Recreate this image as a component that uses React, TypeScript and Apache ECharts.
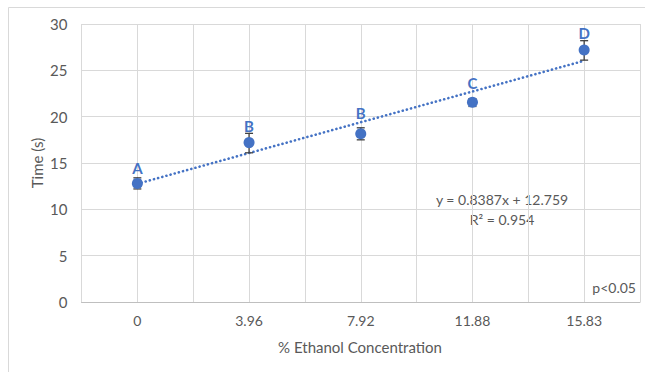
import React, { useEffect, useRef } from "react";
import * as echarts from "echarts";

const categories = ["0", "3.96", "7.92", "11.88", "15.83"];
const meanTime = [12.8, 17.2, 18.15, 21.55, 27.2];
const errLow = [12.2, 16.1, 17.5, 21.1, 26.1];
const errHigh = [13.4, 18.2, 18.8, 21.95, 28.2];
const letters = ["A", "B", "B", "C", "D"];
const letterY = [14.5, 19.0, 20.4, 23.6, 29.0];
const trendEnds = [12.759, 26.036];
const yTicks = [0, 5, 10, 15, 20, 25, 30];

const FONT = "Lato, 'Open Sans', sans-serif";
const BLUE = "#4472C4";
const TEXT = "#595959";

export default function App() {
  const ref = useRef<HTMLDivElement>(null);
  useEffect(() => {
    if (!ref.current) return;
    const chart = echarts.init(ref.current, null, { renderer: "svg" });
    const last = categories.length - 1;
    chart.setOption({
      animation: false,
      backgroundColor: "#ffffff",
      textStyle: { fontFamily: FONT },
      grid: { left: 81.5, right: 5, top: 24, bottom: 70 },
      xAxis: {
        type: "value",
        min: -0.5,
        max: categories.length - 0.5,
        interval: 0.5,
        axisLine: { show: true, lineStyle: { color: "#bfbfbf", width: 1 } },
        axisTick: { show: false },
        splitLine: { show: true, lineStyle: { color: "#d9d9d9", width: 1 } },
        axisLabel: {
          margin: 11,
          color: TEXT,
          fontSize: 14,
          fontFamily: FONT,
          showMinLabel: false,
          showMaxLabel: false,
          formatter: (v: number) => {
            const i = Math.round(v);
            return Math.abs(v - i) < 1e-6 && i >= 0 && i < categories.length ? categories[i] : "";
          },
        },
      },
      yAxis: {
        type: "value",
        min: yTicks[0],
        max: yTicks[yTicks.length - 1],
        interval: 5,
        axisLine: { show: false },
        axisTick: { show: false },
        splitLine: { show: true, lineStyle: { color: "#d9d9d9", width: 1 } },
        axisLabel: { margin: 14, color: TEXT, fontSize: 15, fontFamily: FONT },
      },
      graphic: [
        {
          type: "rect",
          silent: true,
          shape: { x: 8.5, y: 7.5, width: 700, height: 400 },
          style: { fill: "none", stroke: "#d9d9d9", lineWidth: 1 },
          z: -10,
        },
        {
          type: "text",
          x: 37,
          y: 163,
          rotation: Math.PI / 2,
          style: {
            text: "Time (s)",
            fill: TEXT,
            font: `15px ${FONT}`,
            textAlign: "center",
            textVerticalAlign: "middle",
          },
        },
        {
          type: "text",
          x: 360,
          y: 347,
          style: {
            text: "% Ethanol Concentration",
            fill: TEXT,
            font: `15px ${FONT}`,
            textAlign: "center",
            textVerticalAlign: "middle",
          },
        },
        {
          type: "text",
          x: 502,
          y: 199,
          style: {
            text: "y = 0.8387x + 12.759",
            fill: TEXT,
            font: `14px ${FONT}`,
            textAlign: "center",
            textVerticalAlign: "middle",
          },
        },
        {
          type: "text",
          x: 502,
          y: 219,
          style: {
            text: "R² = 0.954",
            fill: TEXT,
            font: `14px ${FONT}`,
            textAlign: "center",
            textVerticalAlign: "middle",
          },
        },
        {
          type: "text",
          x: 636,
          y: 287,
          style: {
            text: "p<0.05",
            fill: TEXT,
            font: `14px ${FONT}`,
            textAlign: "right",
            textVerticalAlign: "middle",
          },
        },
      ],
      series: [
        {
          type: "line",
          data: [
            [0, trendEnds[0]],
            [last, trendEnds[1]],
          ],
          symbol: "none",
          lineStyle: { color: BLUE, width: 2.6, type: [0.1, 4.2], cap: "round" },
          z: 2,
        },
        {
          type: "custom",
          data: categories.map((_, i) => [i, errLow[i], errHigh[i]]),
          renderItem: (params: any, api: any) => {
            const x = api.value(0);
            const lo = api.coord([x, api.value(1)]);
            const hi = api.coord([x, api.value(2)]);
            const hw = 4;
            const st = { stroke: "#404040", lineWidth: 1.3 };
            return {
              type: "group",
              children: [
                { type: "line", shape: { x1: lo[0], y1: lo[1], x2: hi[0], y2: hi[1] }, style: st },
                { type: "line", shape: { x1: lo[0] - hw, y1: lo[1], x2: lo[0] + hw, y2: lo[1] }, style: st },
                { type: "line", shape: { x1: hi[0] - hw, y1: hi[1], x2: hi[0] + hw, y2: hi[1] }, style: st },
              ],
            };
          },
          z: 3,
        },
        {
          type: "scatter",
          data: categories.map((_, i) => [i, meanTime[i]]),
          symbol: "circle",
          symbolSize: 11,
          itemStyle: { color: BLUE, opacity: 1 },
          z: 4,
        },
        {
          type: "custom",
          data: categories.map((_, i) => [i, letterY[i]]),
          renderItem: (params: any, api: any) => {
            const p = api.coord([api.value(0), api.value(1)]);
            return {
              type: "text",
              x: p[0],
              y: p[1],
              style: {
                text: letters[params.dataIndex],
                fill: BLUE,
                font: `bold 15px ${FONT}`,
                textAlign: "center",
                textVerticalAlign: "middle",
              },
            };
          },
          z: 5,
        },
      ],
    });
    return () => chart.dispose();
  }, []);
  return (
    <div
      ref={ref}
      style={{ position: "fixed", left: 0, top: 0, width: 645, height: 372 }}
    />
  );
}
